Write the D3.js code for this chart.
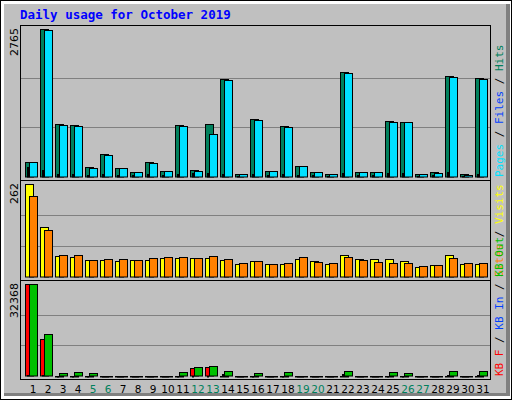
<!DOCTYPE html>
<html><head><meta charset="utf-8">
<script src="https://cdn.jsdelivr.net/npm/d3@7"></script>
<style>body{margin:0;background:#fff}</style>
</head><body>
<svg id="chart" width="512" height="400"></svg>
<script>
// values
const days = d3.range(1, 32);
const weekend = [5, 6, 12, 13, 19, 20, 26, 27];
const hits  = [280,2765,980,960,170,430,150,75,280,95,960,130,980,1825,55,1070,110,940,205,75,55,1955,75,75,1035,1015,55,75,1880,55,1845];
const files = [280,2745,960,940,150,410,150,75,260,95,940,110,790,1805,55,1050,95,920,190,75,55,1935,75,75,1015,1015,55,60,1860,20,1825];
const pages = [170,120,40,40,20,40,30,20,40,20,40,60,60,40,10,40,30,40,20,20,10,60,20,20,60,60,10,20,80,10,40];
const visits = [262,140,57,55,46,46,44,46,46,52,52,52,52,46,35,44,35,35,49,44,35,60,49,49,49,44,27,32,60,35,35];
const sites  = [228,131,60,60,46,49,49,46,52,55,55,52,58,49,38,44,35,38,55,41,38,55,46,41,38,38,29,32,52,38,38];
const kbF   = [32368,12950,0,0,0,0,0,0,0,0,0,2600,3070,0,0,0,0,0,0,0,0,0,0,0,0,0,0,0,0,0,0];
const kbIn  = [300,300,0,0,0,0,0,0,0,0,0,0,0,400,0,0,0,0,0,0,0,400,0,0,0,0,0,0,300,0,300];
const kbOut = [32368,14720,950,1300,950,0,0,0,0,0,1300,3070,3420,1650,0,950,0,1300,0,0,0,1650,0,0,1300,950,0,0,1650,0,1650];

const svg = d3.select("#chart");
const mono = "'DejaVu Sans Mono', monospace";
svg.append("rect").attr("x", 0.5).attr("y", 0.5).attr("width", 511).attr("height", 399).attr("fill", "#fff").attr("stroke", "#000");
svg.append("rect").attr("x", 4).attr("y", 4).attr("width", 506).attr("height", 392).attr("fill", "#808080");
svg.append("rect").attr("x", 4).attr("y", 4).attr("width", 502).attr("height", 389).attr("fill", "#c0c0c0");

svg.append("text").attr("x", 20).attr("y", 19).attr("fill", "#0000ff")
  .attr("font-family", mono).attr("font-weight", "bold").attr("font-size", 12.5)
  .text("Daily usage for October 2019");

const x = d3.scaleBand().domain(days).range([22, 487]).paddingInner(0);

function panel(top, bottom, series, maxLabel, legend) {
  const base = bottom - 3.5;
  const maxV = d3.max(series[0].values);
  const y = d3.scaleLinear().domain([0, maxV]).range([base, top + 4]);
  svg.append("rect").attr("x", 20.5).attr("y", top + 0.5).attr("width", 470).attr("height", bottom - top)
    .attr("fill", "#c0c0c0").attr("stroke", "#000");
  [maxV / 3, maxV * 2 / 3].forEach(v => {
    svg.append("line").attr("x1", 21).attr("x2", 490).attr("y1", Math.round(y(v)) + 0.5).attr("y2", Math.round(y(v)) + 0.5)
      .attr("stroke", "#808080");
  });
  series.forEach(s => {
    svg.append("g").selectAll("rect").data(s.values).join("rect")
      .attr("x", (d, i) => x(days[i]) + 3 + s.off + 0.5)
      .attr("width", s.w)
      .attr("y", d => Math.round(y(d)) + 0.5)
      .attr("height", d => Math.max(0.5, base - Math.round(y(d))))
      .attr("fill", s.color).attr("stroke", "#000");
  });
  svg.append("text").attr("transform", `translate(18,${top + 3}) rotate(-90)`)
    .attr("text-anchor", "end").attr("font-family", "'DejaVu Sans', sans-serif").attr("font-size", 11)
    .text(maxLabel);
  const t = svg.append("text").attr("transform", `translate(503,${bottom - 3}) rotate(-90)`)
    .attr("font-family", mono).attr("font-size", 11);
  legend.forEach((l, i) => {
    if (i) t.append("tspan").attr("fill", "#000").text(" / ");
    t.append("tspan").attr("fill", l[1]).text(l[0]);
  });
}

panel(25, 180, [
  {values: hits, color: "#00805c", off: 0, w: 8},
  {values: files, color: "#00e0ff", off: 4, w: 8},
  {values: pages, color: "#0040ff", off: 2, w: 1}
], "2765", [["Pages", "#00e0ff"], ["Files", "#0040ff"], ["Hits", "#00805c"]]);

panel(180, 280, [
  {values: visits, color: "#ffff00", off: 0, w: 8},
  {values: sites, color: "#ff8000", off: 4, w: 8}
], "262", [["Sites", "#ff8000"], ["Visits", "#ffff00"]]);

panel(280, 379, [
  {values: kbF, color: "#ff0000", off: 0, w: 8},
  {values: kbOut, color: "#00c000", off: 4, w: 8},
  {values: kbIn, color: "#0040ff", off: 2, w: 1}
], "32368", [["KB F", "#ff0000"], ["KB In", "#0040ff"], ["KB Out", "#00c000"]]);

svg.append("g").selectAll("text").data(days).join("text")
  .attr("x", d => x(d) + 11).attr("y", 393).attr("text-anchor", "middle")
  .attr("font-family", "'DejaVu Sans', sans-serif").attr("font-size", 10.5)
  .attr("fill", d => weekend.includes(d) ? "#00805c" : "#000")
  .text(d => d);
</script>
</body></html>
